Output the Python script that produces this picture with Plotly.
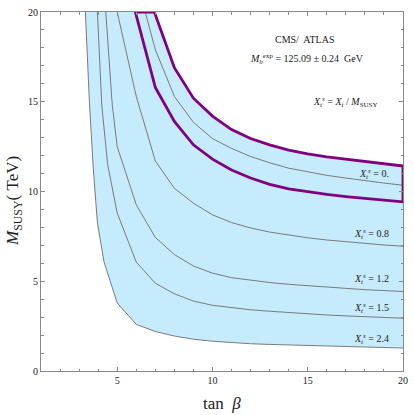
import plotly.graph_objects as go

# ---- data ----
tanb_x24 = [3.33, 3.54, 3.75, 3.96, 4.31, 4.66, 5, 6, 7, 8, 9, 10, 11, 12, 13, 14, 15, 16, 17, 18, 19, 20]
msusy_x24 = [20, 15.0, 11.2, 8.26, 6.07, 4.94, 3.79, 2.6, 2.2, 1.95, 1.77, 1.66, 1.58, 1.52, 1.48, 1.45, 1.42, 1.38, 1.35, 1.32, 1.30, 1.28]

tanb_x15 = [3.96, 4.19, 4.5, 5, 6, 7, 8, 9, 10, 11, 12, 13, 14, 15, 16, 17, 18, 19, 20]
msusy_x15 = [20, 14.8, 11.5, 8.8, 6.07, 4.89, 4.3, 3.9, 3.66, 3.52, 3.41, 3.33, 3.25, 3.18, 3.12, 3.07, 3.02, 2.98, 2.94]

tanb_x12 = [4.4, 4.74, 5, 6, 7, 8, 9, 10, 11, 12, 13, 14, 15, 16, 17, 18, 19, 20]
msusy_x12 = [20, 14.82, 12.5, 9.26, 7.44, 6.49, 5.85, 5.45, 5.2, 5.05, 4.93, 4.83, 4.75, 4.67, 4.6, 4.53, 4.48, 4.43]

tanb_x08 = [5.0, 6, 7, 8, 9, 10, 11, 12, 13, 14, 15, 16, 17, 18, 19, 20]
msusy_x08 = [20, 15.3, 11.7, 10.18, 9.35, 8.7, 8.27, 7.97, 7.74, 7.56, 7.42, 7.3, 7.2, 7.1, 7.02, 6.95]

tanb_x0 = [6.47, 7, 8, 9, 10, 11, 12, 13, 14, 15, 16, 17, 18, 19, 20]
msusy_x0 = [20, 17.9, 15.3, 13.85, 12.95, 12.4, 11.95, 11.6, 11.3, 11.08, 10.9, 10.75, 10.6, 10.47, 10.35]

tanb_x0_low = [5.95, 7, 8, 9, 10, 11, 12, 13, 14, 15, 16, 17, 18, 19, 20]
msusy_x0_low = [20, 15.8, 13.9, 12.6, 11.8, 11.2, 10.75, 10.4, 10.15, 9.98, 9.84, 9.72, 9.61, 9.51, 9.42]

tanb_x0_up = [6.95, 8, 9, 10, 11, 12, 13, 14, 15, 16, 17, 18, 19, 20]
msusy_x0_up = [20, 16.9, 15.2, 14.2, 13.45, 12.95, 12.6, 12.3, 12.1, 11.93, 11.79, 11.66, 11.54, 11.42]

thin_curves = [
    (tanb_x24, msusy_x24),
    (tanb_x15, msusy_x15),
    (tanb_x12, msusy_x12),
    (tanb_x08, msusy_x08),
    (tanb_x0, msusy_x0),
]

SERIF = "Liberation Serif, Times New Roman, serif"
BLUE = "#c6ebfc"
PURPLE = "#800080"
GRAY = "#7a7a7a"
AXIS = "#8a8a8a"

fig = go.Figure()

# blue allowed region: lowest curve up to upper purple boundary
fill_x = list(tanb_x24) + list(tanb_x0_up[::-1])
fill_y = list(msusy_x24) + list(msusy_x0_up[::-1])
fig.add_trace(go.Scatter(x=fill_x, y=fill_y, mode="lines", fill="toself",
                         fillcolor=BLUE, line=dict(width=0), hoverinfo="skip"))

for tx, my in thin_curves:
    fig.add_trace(go.Scatter(x=tx, y=my, mode="lines",
                             line=dict(color=GRAY, width=1), hoverinfo="skip"))

# purple band (X_t^s = 0 with M_h uncertainty)
band_x = list(tanb_x0_low) + list(tanb_x0_up[::-1]) + [tanb_x0_low[0]]
band_y = list(msusy_x0_low) + list(msusy_x0_up[::-1]) + [msusy_x0_low[0]]
fig.add_trace(go.Scatter(x=band_x, y=band_y, mode="lines",
                         line=dict(color=PURPLE, width=2.8), hoverinfo="skip"))

axis_common = dict(
    showgrid=False, zeroline=False, showline=True, linecolor=AXIS, linewidth=1,
    mirror="ticks", ticks="inside", ticklen=4, tickcolor=AXIS, tickwidth=1,
    dtick=5, tick0=0,
    tickfont=dict(family=SERIF, size=10, color="#222"),
    minor=dict(dtick=1, tick0=0, ticks="inside", ticklen=2.5, tickcolor=AXIS, showgrid=False),
)

fig.update_xaxes(range=[1, 20], **axis_common)
fig.update_yaxes(range=[0, 20], **axis_common)

label_font = dict(family=SERIF, size=10, color="#222")
xs = "<i>X</i><sub><i>t</i></sub><sup><i>s</i></sup>"
ann = [
    dict(x=14.85, y=18.49, text="CMS/\u00a0 ATLAS"),
    dict(x=14.98, y=17.4, text="<i>M</i><sub><i>h</i></sub><sup>exp</sup> = 125.09 \u00b1 0.24 \u00a0GeV"),
    dict(x=17.0, y=14.99, text=xs + " = <i>X</i><sub><i>t</i></sub> / <i>M</i><sub>SUSY</sub>"),
    dict(x=18.5, y=11.0, text=xs + " = 0."),
    dict(x=18.33, y=7.66, text=xs + " = 0.8"),
    dict(x=18.33, y=5.14, text=xs + " = 1.2"),
    dict(x=18.33, y=3.5, text=xs + " = 1.5"),
    dict(x=18.33, y=1.8, text=xs + " = 2.4"),
]
for a in ann:
    fig.add_annotation(xref="x", yref="y", showarrow=False, font=label_font,
                       xanchor="center", yanchor="middle", **a)

# axis titles
fig.add_annotation(xref="paper", yref="paper", x=0.5, y=-0.09, showarrow=False,
                   text="tan \u00a0<i>\u03b2</i>", font=dict(family=SERIF, size=17, color="#222"),
                   xanchor="center", yanchor="middle")
fig.add_annotation(xref="paper", yref="paper", x=-0.074, y=0.474, showarrow=False,
                   text="<i>M</i><sub>SUSY</sub>(\u00a0TeV)", textangle=-90,
                   font=dict(family=SERIF, size=17, color="#222"),
                   xanchor="center", yanchor="middle")

fig.update_layout(
    width=414, height=415,
    margin=dict(l=41, r=6, t=6, b=44),
    paper_bgcolor="white", plot_bgcolor="white",
    showlegend=False,
)

fig.write_html("out.html", config={"displayModeBar": False},
               post_script="document.body.style.margin='0';document.body.style.overflow='hidden';")
